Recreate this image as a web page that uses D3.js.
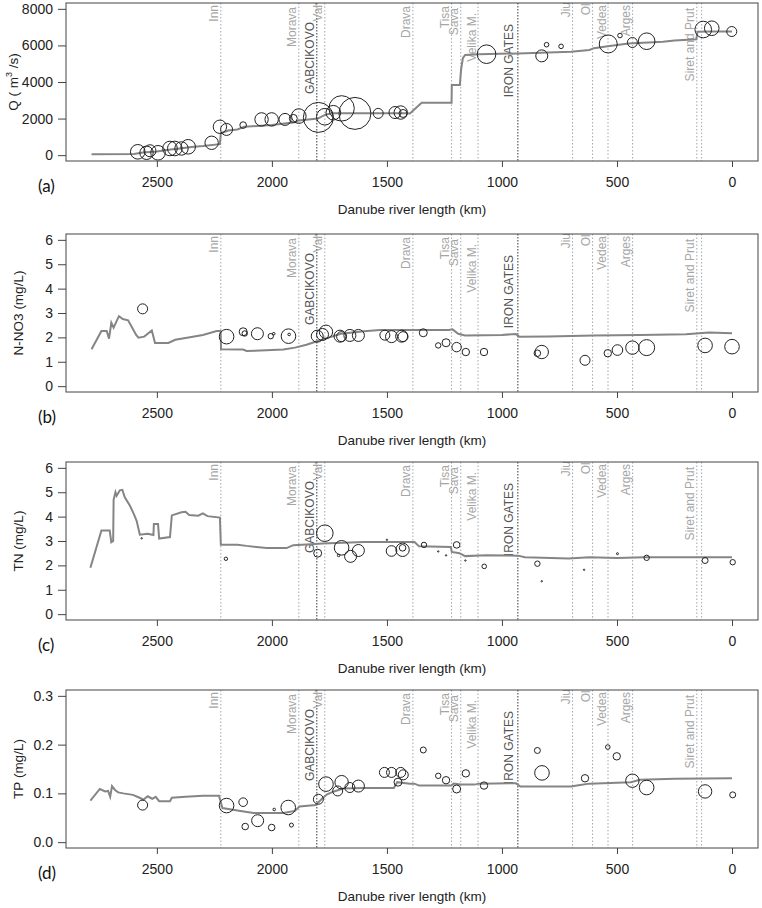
<!DOCTYPE html>
<html>

<head>
  <meta charset="utf-8">
  <title>Danube river profiles</title>
  <script src="https://d3js.org/d3.v7.min.js"></script>

  <style>
    body {
      margin: 0;
      background: #fff;
    }

    svg {
      font-family: "Liberation Sans", Arial, Helvetica, sans-serif;
    }

    .box {
      fill: none;
      stroke: #444;
      stroke-width: 1;
    }

    .axis text {
      font-size: 14px;
      fill: #222;
    }

    .axis line {
      stroke: #444;
    }

    .axis .domain {
      display: none;
    }

    .model {
      fill: none;
      stroke: #858585;
      stroke-width: 2;
    }

    .obs {
      fill: none;
      stroke: #222;
      stroke-width: 1;
    }

    .trib {
      stroke: #a6a6a6;
      stroke-dasharray: 1.5, 2;
    }

    .dam {
      stroke: #666;
      stroke-dasharray: 1.5, 1.5;
      stroke-width: 1.3;
    }

    .trib-label {
      font-size: 12px;
      fill: #a6a6a6;
    }

    .dam-label {
      font-size: 12px;
      fill: #555;
    }

    .title {
      font-size: 13.5px;
      fill: #222;
    }

    .tag {
      font-family: Lato, "Open Sans", sans-serif;
      font-size: 17px;
      fill: #111;
    }
  </style>
</head>

<body>
  <div id="chart"></div>

  <script>
    // tributaries and dams (river km)
    const riverNames = ['Inn', 'Morava', 'GABCIKOVO', 'Vah', 'Drava', 'Tisa', 'Sava', 'Velika M.', 'IRON GATES', 'Jiu', 'Olt', 'Vedea', 'Arges', 'Siret and Prut', '']
    const riverKm = [2222, 1883, 1805, 1770, 1387, 1219, 1179, 1104, 931, 693, 606, 539, 432, 153, 132]
    const damNames = ['GABCIKOVO', 'IRON GATES']

    const xTicks = [2500, 2000, 1500, 1000, 500, 0]

    // (a) discharge
    const qLineKm = [2784, 2600, 2560, 2500, 2450, 2400, 2350, 2300, 2226, 2222, 2190, 2150, 2120, 2000, 1900, 1883, 1800, 1770, 1740, 1500, 1420, 1400, 1349, 1219, 1218, 1183, 1178, 1170, 1160, 1100, 930, 700, 620, 600, 540, 450, 300, 250, 155, 150, 100, 0]
    const qLineVal = [50, 60, 150, 200, 300, 370, 450, 500, 600, 1200, 1350, 1400, 1550, 1650, 1800, 1900, 2000, 2200, 2290, 2290, 2290, 2280, 2860, 2860, 3830, 3830, 4650, 5300, 5480, 5520, 5560, 5660, 5750, 5850, 5950, 6100, 6200, 6270, 6340, 6750, 6760, 6760]
    const qObsKm = [2583, 2545, 2530, 2495, 2443, 2422, 2393, 2364, 2262, 2226, 2197, 2125, 2045, 2001, 1943, 1907, 1883, 1798, 1770, 1733, 1697, 1639, 1538, 1465, 1440, 1430, 1067, 827, 806, 743, 538, 487, 433, 371, 125, 88, 1]
    const qObsVal = [183, 128, 240, 128, 365, 365, 365, 457, 676, 1552, 1406, 1644, 1954, 1954, 1954, 2009, 2137, 2064, 2100, 2320, 2557, 2283, 2283, 2330, 2330, 2280, 5520, 5430, 6040, 5950, 6080, 6540, 6160, 6230, 6870, 6940, 6760]
    const qObsSize = [7.3, 6.7, 6, 7.3, 7.3, 7.3, 6.7, 7.3, 6.7, 6.7, 6, 3.3, 6.7, 6.7, 6, 4, 7.3, 15, 8.3, 7.3, 12.7, 16, 5, 6, 6.7, 4, 9.3, 6, 2.3, 2.3, 9, 2.3, 5, 8.3, 8.3, 7.3, 5]

    // (b) nitrate
    const nLineKm = [2784, 2741, 2718, 2708, 2698, 2688, 2665, 2648, 2625, 2590, 2580, 2555, 2522, 2508, 2450, 2420, 2350, 2300, 2240, 2223, 2221, 2150, 2125, 2110, 2050, 1950, 1900, 1850, 1800, 1750, 1700, 1600, 1530, 1230, 1215, 1190, 1160, 1000, 940, 925, 800, 600, 400, 200, 100, 0]
    const nLineVal = [1.51, 2.26, 2.26, 1.95, 2.6, 2.4, 2.87, 2.75, 2.7, 2.1, 1.99, 2.03, 2.28, 1.77, 1.77, 1.9, 2.02, 2.1, 2.26, 2.26, 1.51, 1.5, 1.5, 1.44, 1.46, 1.5, 1.58, 1.7, 1.85, 2.0, 2.15, 2.25, 2.3, 2.3, 2.33, 2.15, 2.08, 2.1, 2.14, 2.03, 2.04, 2.08, 2.1, 2.13, 2.2, 2.17]
    const nObsKm = [2562, 2197, 2125, 2118, 2063, 2005, 1992, 1928, 1925, 1803, 1780, 1765, 1704, 1697, 1661, 1624, 1509, 1480, 1436, 1430, 1342, 1277, 1243, 1197, 1157, 1078, 846, 827, 639, 540, 498, 433, 371, 117, 0]
    const nObsVal = [3.17, 2.03, 2.23, 2.16, 2.15, 2.05, 2.15, 2.05, 2.12, 2.05, 2.12, 2.23, 2.05, 2.03, 2.08, 2.08, 2.09, 2.03, 2.05, 2.03, 2.19, 1.67, 1.78, 1.6, 1.4, 1.4, 1.35, 1.4, 1.06, 1.35, 1.48, 1.58, 1.58, 1.67, 1.62]
    const nObsSize = [5, 7.3, 4, 2.7, 6, 2.7, 1.3, 7.3, 1.3, 6, 6, 6.7, 6, 5, 6, 6, 5, 6, 6, 5, 4, 2.7, 4, 4.7, 3.7, 3.7, 3.3, 6.7, 5, 3.7, 5.3, 6.7, 8, 7.3, 7.3]

    // (c) total nitrogen
    const tnLineKm = [2789, 2741, 2705, 2698, 2690, 2688, 2680, 2675, 2661, 2650, 2640, 2617, 2600, 2588, 2574, 2540, 2515, 2513, 2495, 2490, 2443, 2435, 2393, 2375, 2360, 2320, 2300, 2280, 2226, 2222, 2150, 2110, 2023, 1936, 1907, 1850, 1780, 1600, 1380, 1360, 1222, 1218, 1185, 1160, 1070, 930, 900, 710, 620, 500, 380, 0]
    const tnLineVal = [1.9, 3.43, 3.43, 2.95, 3.0, 4.7, 5.0, 4.85, 5.08, 5.1, 4.8, 4.45, 4.1, 3.83, 3.26, 3.3, 3.25, 3.7, 3.7, 3.1, 3.16, 4.05, 4.18, 4.2, 4.07, 4.04, 4.13, 4.02, 3.96, 2.85, 2.85, 2.8, 2.71, 2.71, 2.83, 2.86, 2.9, 2.96, 2.96, 2.78, 2.75, 2.55, 2.5, 2.38, 2.42, 2.4, 2.33, 2.28, 2.33, 2.3, 2.33, 2.33]
    const tnObsKm = [2566, 2200, 1801, 1770, 1710, 1697, 1658, 1624, 1500, 1480, 1432, 1432, 1339, 1277, 1243, 1197, 1159, 1077, 846, 827, 643, 498, 371, 117, -3]
    const tnObsVal = [3.11, 2.27, 2.5, 3.32, 2.41, 2.72, 2.37, 2.61, 3.05, 2.59, 2.64, 2.72, 2.84, 2.57, 2.41, 2.84, 2.2, 1.96, 2.07, 1.35, 1.82, 2.48, 2.31, 2.2, 2.13]
    const tnObsSize = [0.7, 1.7, 4, 8.3, 1.3, 7.3, 6, 6, 0.7, 5.3, 6.7, 3.3, 2.7, 0.7, 0.7, 3.3, 0.7, 2.3, 2.7, 0.7, 0.7, 1, 2.7, 3, 2.7]

    // (d) total phosphorus
    const tpLineKm = [2789, 2748, 2725, 2712, 2703, 2695, 2682, 2668, 2646, 2604, 2575, 2559, 2540, 2520, 2505, 2490, 2443, 2435, 2375, 2300, 2230, 2215, 2150, 2080, 1950, 1900, 1880, 1810, 1780, 1760, 1730, 1690, 1600, 1470, 1455, 1400, 1380, 1360, 1300, 1220, 1210, 1180, 1120, 1100, 940, 920, 700, 660, 620, 440, 400, 250, 0]
    const tpLineVal = [0.085, 0.109, 0.104, 0.105, 0.093, 0.115, 0.107, 0.102, 0.1, 0.097, 0.091, 0.087, 0.094, 0.089, 0.093, 0.084, 0.084, 0.091, 0.093, 0.095, 0.095, 0.07, 0.065, 0.06, 0.06, 0.064, 0.073, 0.076, 0.09, 0.098, 0.104, 0.11, 0.111, 0.111, 0.123, 0.12, 0.12, 0.116, 0.116, 0.116, 0.12, 0.118, 0.118, 0.12, 0.121, 0.114, 0.114, 0.117, 0.12, 0.123, 0.128, 0.13, 0.131]
    const tpObsKm = [2562, 2197, 2125, 2116, 2062, 2001, 1990, 1929, 1915, 1798, 1765, 1714, 1697, 1661, 1624, 1511, 1480, 1452, 1440, 1429, 1342, 1277, 1243, 1197, 1157, 1078, 846, 826, 639, 540, 501, 433, 371, 117, -3]
    const tpObsVal = [0.076, 0.075, 0.082, 0.032, 0.044, 0.03, 0.067, 0.071, 0.035, 0.088, 0.119, 0.105, 0.123, 0.112, 0.115, 0.143, 0.143, 0.123, 0.143, 0.138, 0.189, 0.136, 0.127, 0.109, 0.141, 0.116, 0.188, 0.142, 0.131, 0.195, 0.176, 0.126, 0.112, 0.104, 0.097]
    const tpObsSize = [5, 7.3, 4.3, 3.3, 6, 3.3, 1.3, 7.3, 2, 5, 7.3, 5, 6.7, 5, 6, 5, 5, 4, 5, 5, 3, 2.7, 3.7, 4, 3.7, 3.7, 3, 7.3, 3.7, 2.3, 3.7, 6.7, 7.3, 6.7, 3]

    const labelTop = {
      'Inn': 2, 'Morava': 4, 'GABCIKOVO': 19, 'Vah': -2, 'Drava': 3, 'Tisa': 3, 'Sava': 5,
      'Velika M.': 10, 'IRON GATES': 21, 'Jiu': -1, 'Olt': -3, 'Vedea': 2, 'Arges': 2, 'Siret and Prut': 5
    }

    const width = 762, height = 908
    const left = 66, right = 758, boxH = 158

    const svg = d3.select('#chart').append('svg')
      .attr('width', width)
      .attr('height', height)

    const xScale = d3.scaleLinear()
      .domain([2895, -113])
      .range([left, right])

    const panels = [
      { tag: '(a)', top: 3, yMax: 8000, yTicks: [0, 2000, 4000, 6000, 8000], fmt: d3.format('d'), titleX: 18,
        lineKm: qLineKm, lineVal: qLineVal, obsKm: qObsKm, obsVal: qObsVal, obsSize: qObsSize, title: 'Q' },
      { tag: '(b)', top: 234, yMax: 6, yTicks: [0, 1, 2, 3, 4, 5, 6], fmt: d3.format('d'), titleX: 23,
        lineKm: nLineKm, lineVal: nLineVal, obsKm: nObsKm, obsVal: nObsVal, obsSize: nObsSize, title: 'N-NO3 (mg/L)' },
      { tag: '(c)', top: 462, yMax: 6, yTicks: [0, 1, 2, 3, 4, 5, 6], fmt: d3.format('d'), titleX: 23,
        lineKm: tnLineKm, lineVal: tnLineVal, obsKm: tnObsKm, obsVal: tnObsVal, obsSize: tnObsSize, title: 'TN (mg/L)' },
      { tag: '(d)', top: 690, yMax: 0.3, yTicks: [0, 0.1, 0.2, 0.3], fmt: d3.format('.1f'), titleX: 23,
        lineKm: tpLineKm, lineVal: tpLineVal, obsKm: tpObsKm, obsVal: tpObsVal, obsSize: tpObsSize, title: 'TP (mg/L)' }
    ]

    const rScale = d3.scaleLinear().domain([0, 10]).range([0, 10])

    panels.forEach((p, i) => drawPanel(p, i))

    function drawPanel(p, i) {
      const top = p.top, bottom = p.top + boxH
      const ext = p.yMax * 0.04
      const yScale = d3.scaleLinear()
        .domain([-ext, p.yMax + ext])
        .range([bottom, top])

      const g = svg.append('g')

      // clip to plot region
      const clipId = 'clip' + i
      svg.append('clipPath').attr('id', clipId)
        .append('rect')
        .attr('x', left).attr('y', top)
        .attr('width', right - left).attr('height', boxH)

      const inner = g.append('g').attr('clip-path', `url(#${clipId})`)

      // tributary / dam lines
      inner.selectAll('.vline')
        .data(riverKm)
        .enter()
        .append('line')
        .attr('class', (d, j) => damNames.includes(riverNames[j]) ? 'dam' : 'trib')
        .attr('x1', d => xScale(d))
        .attr('x2', d => xScale(d))
        .attr('y1', top)
        .attr('y2', bottom)

      // labels
      inner.selectAll('.rlabel')
        .data(riverNames.filter(n => n !== ''))
        .enter()
        .append('text')
        .attr('class', d => damNames.includes(d) ? 'dam-label' : 'trib-label')
        .attr('text-anchor', 'end')
        .attr('transform', d => {
          const x = xScale(riverKm[riverNames.indexOf(d)]) - (d === 'IRON GATES' ? 5 : 2.5)
          const y = top + labelTop[d]
          return `translate(${x},${y}) rotate(-90)`
        })
        .text(d => d)

      // model line
      const line = d3.line()
        .x((d, j) => xScale(p.lineKm[j]))
        .y((d, j) => yScale(p.lineVal[j]))

      inner.append('path')
        .datum(p.lineVal)
        .attr('class', 'model')
        .attr('d', line)

      // observations
      inner.selectAll('.obs')
        .data(p.obsVal)
        .enter()
        .append('circle')
        .attr('class', 'obs')
        .attr('cx', (d, j) => xScale(p.obsKm[j]))
        .attr('cy', d => yScale(d))
        .attr('r', (d, j) => rScale(p.obsSize[j]))

      // axes
      g.append('g')
        .attr('class', 'axis')
        .attr('transform', `translate(0,${bottom})`)
        .call(d3.axisBottom(xScale).tickValues(xTicks).tickSize(6).tickPadding(10).tickFormat(d3.format('d')))

      g.append('g')
        .attr('class', 'axis')
        .attr('transform', `translate(${left},0)`)
        .call(d3.axisLeft(yScale).tickValues(p.yTicks).tickSize(8).tickPadding(5).tickFormat(p.fmt))

      // box
      g.append('rect')
        .attr('class', 'box')
        .attr('x', left)
        .attr('y', top)
        .attr('width', right - left)
        .attr('height', boxH)

      // x title
      g.append('text')
        .attr('class', 'title')
        .attr('x', (left + right) / 2)
        .attr('y', bottom + 53)
        .attr('text-anchor', 'middle')
        .text('Danube river length (km)')

      // y title
      const yt = g.append('text')
        .attr('class', 'title')
        .attr('text-anchor', 'middle')
        .attr('transform', `translate(${p.titleX},${(top + bottom) / 2}) rotate(-90)`)
      if (p.title === 'Q') {
        yt.append('tspan').text('Q ( m')
        yt.append('tspan').attr('dy', -6).attr('font-size', 9).text('3')
        yt.append('tspan').attr('dy', 6).text(' /s)')
      } else {
        yt.text(p.title)
      }

      // panel tag
      g.append('text')
        .attr('class', 'tag')
        .attr('x', 38)
        .attr('y', bottom + 31)
        .text(p.tag)
    }
  </script>
</body>

</html>
